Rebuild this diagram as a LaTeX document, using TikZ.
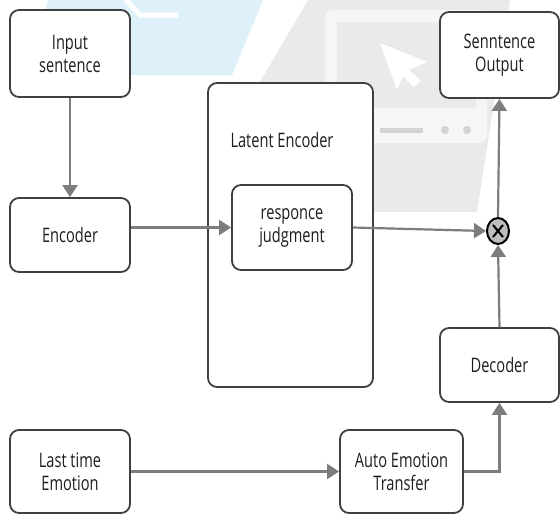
\documentclass[tikz,border=0pt]{standalone}
\usepackage{fontspec}
\setmainfont{Open Sans}[FakeStretch=0.73]
\usetikzlibrary{positioning,arrows.meta,shapes.geometric,calc}
\definecolor{boite}{RGB}{64,64,64}
\definecolor{fleche}{RGB}{125,125,125}
\definecolor{texte}{RGB}{30,30,30}
\definecolor{bleufond}{RGB}{222,241,251}
\definecolor{grisfond}{RGB}{234,234,234}
\definecolor{ecran}{RGB}{246,246,246}
\definecolor{mulgris}{RGB}{190,190,190}

\begin{document}
\begin{tikzpicture}[x=1pt, y=-1pt, >={Triangle[length=12pt,width=15pt]},
    bloc/.style={draw=boite, line width=1.8pt, rounded corners=9pt, fill=white,
        align=center, text=texte, inner sep=0pt, font=\fontsize{20}{23}\selectfont},
    fl/.style={->, draw=fleche, line width=2.2pt}]

    \useasboundingbox (0,0) rectangle (560,515);

    % =========================================================================
    % FILIGRANE
    % =========================================================================
    \fill[bleufond] (48,0) -- (263,0) -- (232,75) -- (30,75) -- cycle;
    \draw[white, line width=5pt] (126,0) -- (140,15) -- (178,15);

    \fill[grisfond] (308,0) -- (510,0) -- (477,212) -- (215,212) -- (260,82) -- cycle;
    % Écran
    \fill[ecran, rounded corners=8pt] (325,10) rectangle (487,143);
    \fill[grisfond] (337,22) rectangle (476,108);
    \draw[grisfond!90!black, line width=5pt] (380,130) -- (423,130);
    \fill[grisfond!90!black] (445,130) circle (4) (467,130) circle (4);
    % Curseur
    \fill[white] (380,43) -- (427,62) -- (409,70) -- (421,81) -- (414,87)
        -- (403,76) -- (397,90) -- cycle;

    % =========================================================================
    % BLOCS
    % =========================================================================
    \node[bloc, minimum width=120pt, minimum height=87pt] (inp) at (70,53.5) {Input\\sentence};
    \node[bloc, minimum width=120pt, minimum height=74pt] (enc) at (70,235) {Encoder};
    \node[bloc, minimum width=120pt, minimum height=83pt] (lte) at (70,471.5) {Last time\\Emotion};

    % Latent Encoder
    \node[bloc, minimum width=165pt, minimum height=304pt] (lat) at (290.5,235) {};
    \node[text=texte, inner sep=0pt, font=\fontsize{20}{23}\selectfont] (latlbl) at (282,140) {Latent Encoder};
    \node[bloc, minimum width=120pt, minimum height=85pt] (rj) at (292,227.5) {responce\\judgment};

    \node[bloc, minimum width=119pt, minimum height=86pt] (out) at (499.5,55) {Senntence\\Output};
    \node[bloc, minimum width=119pt, minimum height=74pt] (dec) at (499.5,365) {Decoder};
    \node[bloc, minimum width=123pt, minimum height=83pt] (aet) at (401.5,471.5) {Auto Emotion\\Transfer};

    % Produit
    \node[ellipse, draw=black, fill=mulgris, line width=2pt, inner sep=0pt,
        minimum width=22pt, minimum height=26pt] (mul) at (498,231) {};
    \draw[line width=2pt] ($(mul)+(-5,-6)$) -- ($(mul)+(5,6)$);
    \draw[line width=2pt] ($(mul)+(-5,6)$) -- ($(mul)+(5,-6)$);

    % =========================================================================
    % FLÈCHES
    % =========================================================================
    \draw[fl] (inp.south) -- (enc.north);
    \draw[fl] (enc.east |- rj.west) -- (rj.west);
    \draw[fl] (rj.east) -- (mul.west);
    \draw[fl] (mul.north) -- (out.south);
    \draw[fl] (dec.north) -- (mul.south);
    \draw[fl] (lte.east) -- (aet.west);
    \draw[fl] (aet.east) -| (dec.south);
\end{tikzpicture}
\end{document}
